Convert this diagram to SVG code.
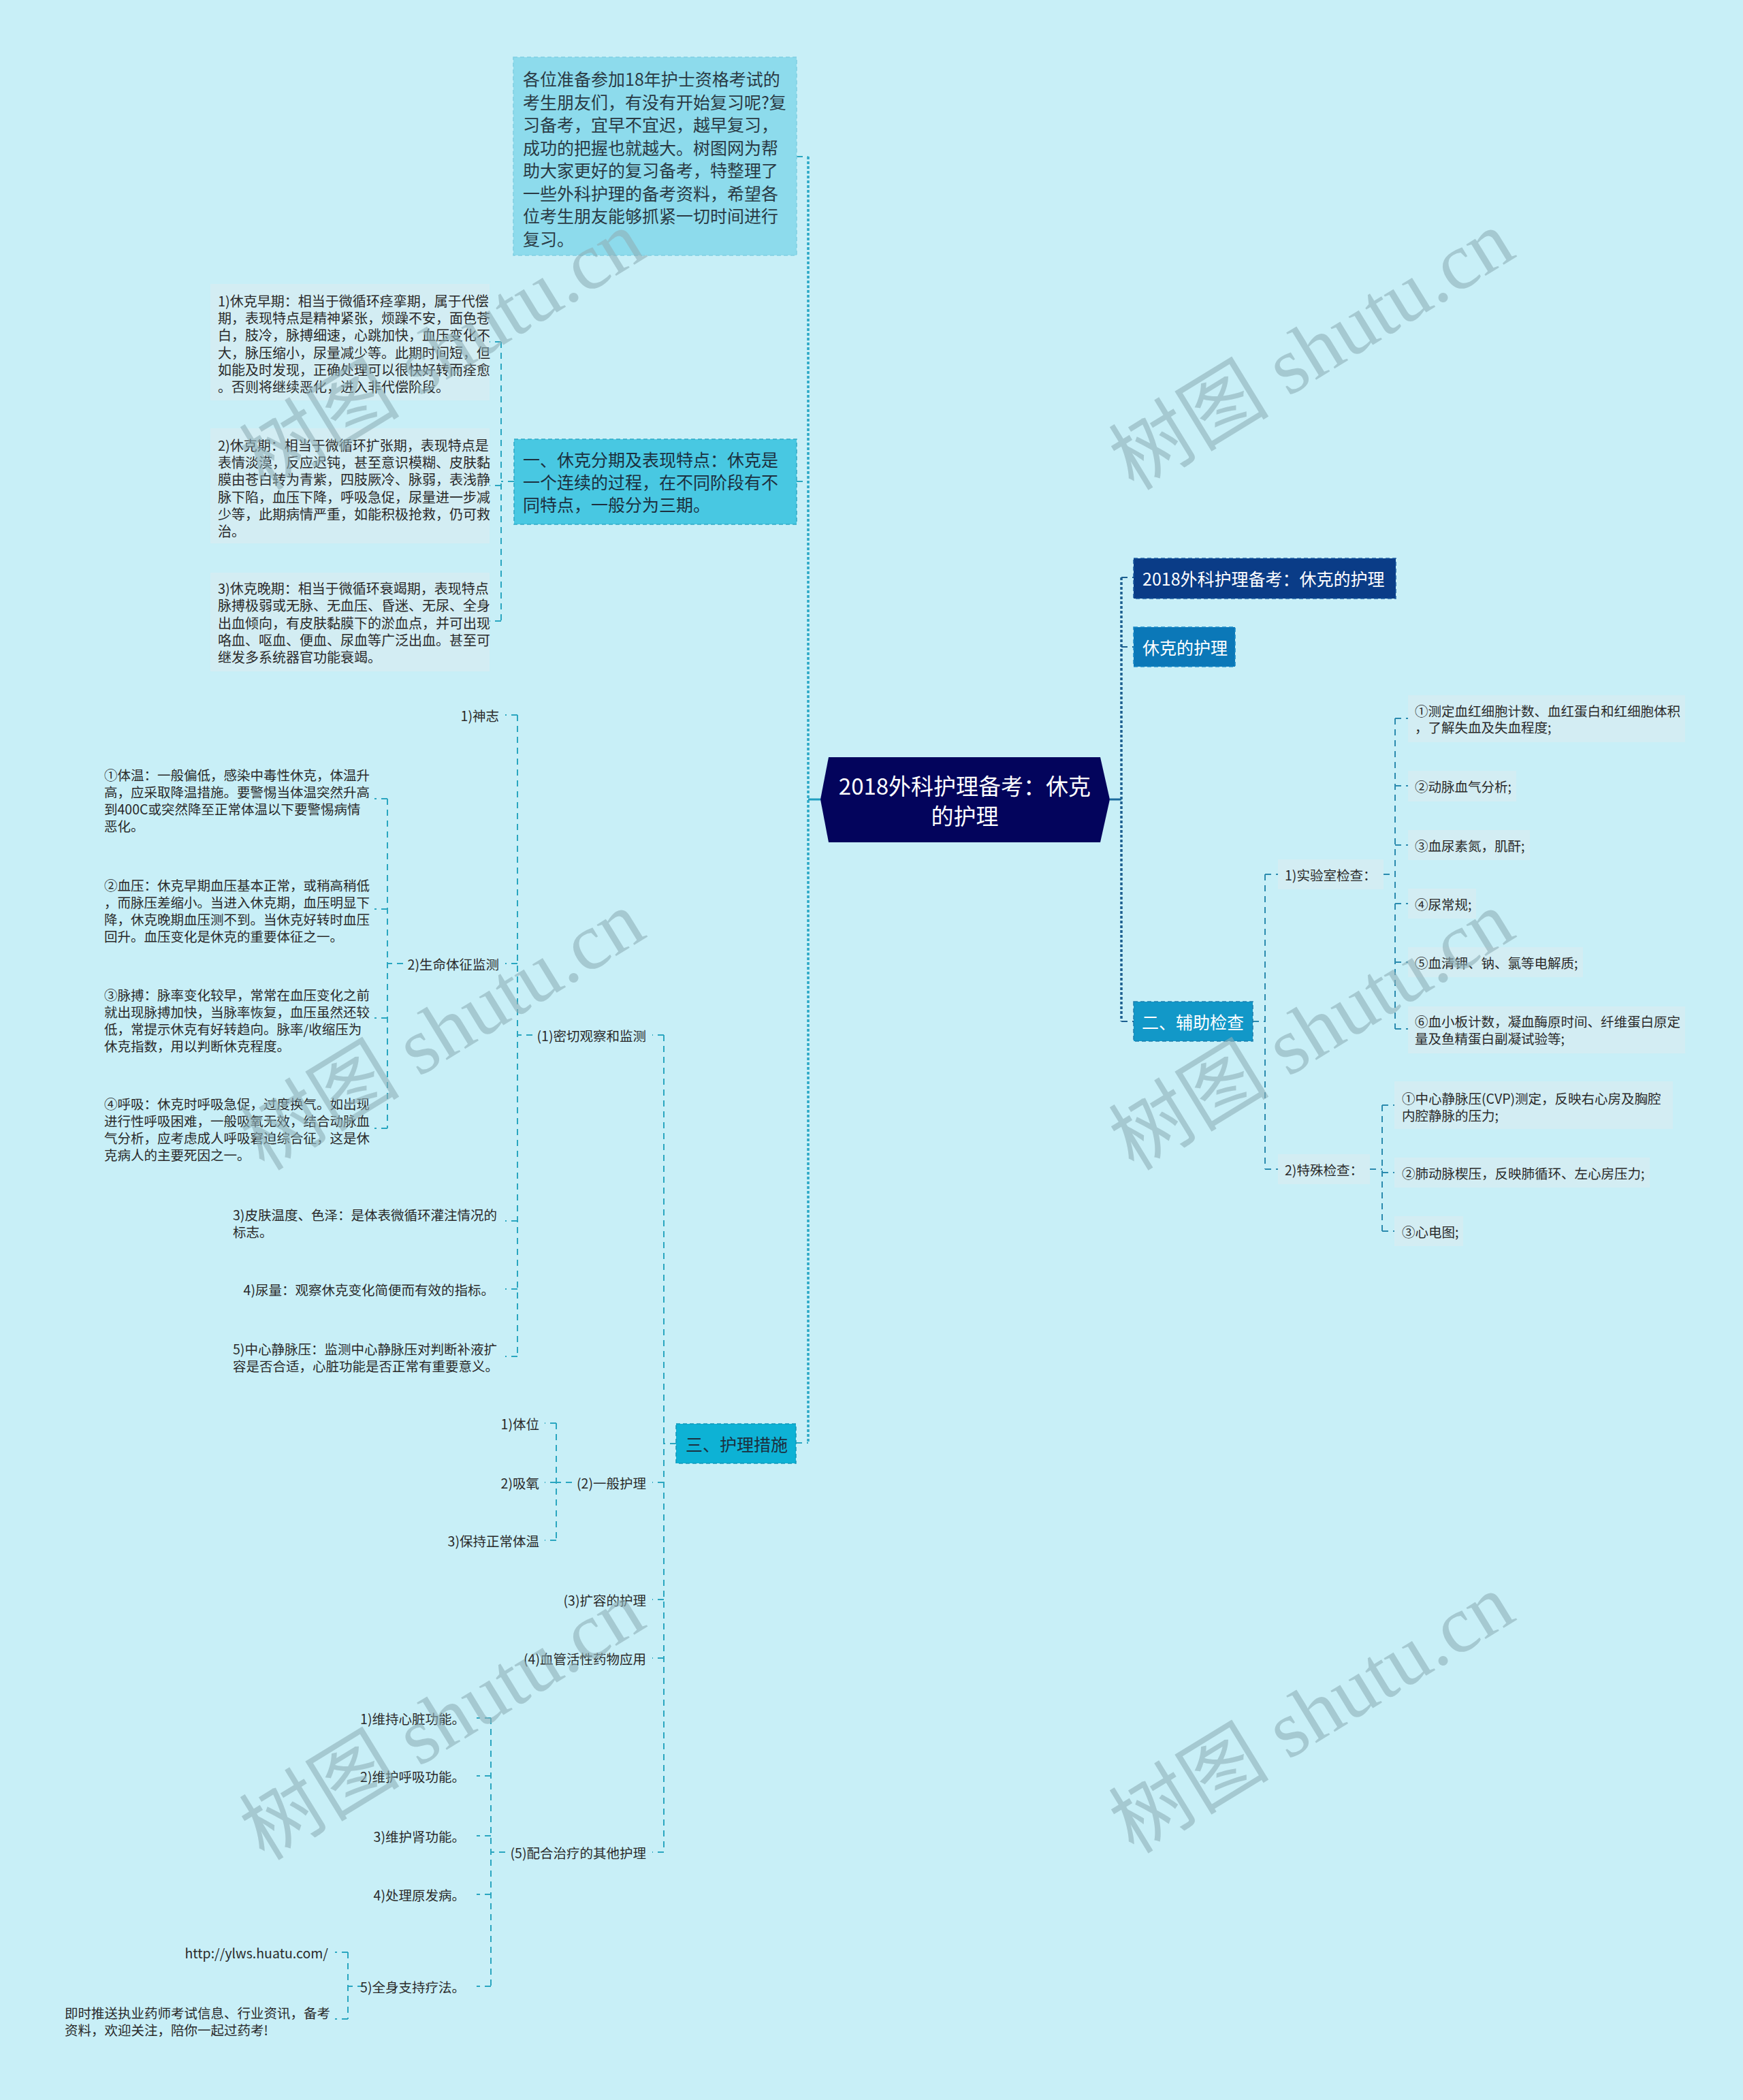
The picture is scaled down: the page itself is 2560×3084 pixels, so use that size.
<svg xmlns="http://www.w3.org/2000/svg" width="2560" height="3084" viewBox="0 0 2560 3084">
<style>
text{font-family:"Noto Sans CJK SC","Noto Sans",sans-serif;dominant-baseline:central}
.s{font-size:19.5px;fill:#2a2a2a}
.p{font-size:20px;fill:#2a2a2a}
.m{font-size:25px;fill:#1c3040}
.w{font-size:25px;fill:#ffffff}
.r{font-size:33px;fill:#ffffff}
.end{text-anchor:end}
.leaf{fill:#d3edf3}
.cl{fill:none;stroke:#2aa6c0;stroke-width:2;stroke-dasharray:9 7}
.cr{fill:none;stroke:#2a8aae;stroke-width:2;stroke-dasharray:9 7}
.tl{fill:none;stroke:#2aa8c6;stroke-width:3.5;stroke-dasharray:4 3}
.tr{fill:none;stroke:#1c5f90;stroke-width:3.5;stroke-dasharray:4 3}
.solid{fill:none;stroke:#1f9fc0;stroke-width:3}
.wm{font-family:"Liberation Serif","Noto Sans CJK SC",serif;font-size:118px;fill:#8fb0b8;opacity:0.6;text-anchor:middle}
</style>
<rect x="0" y="0" width="2560" height="3084" fill="#c8eff7"/>

<g id="connectors">
  <path class="tl" d="M1187,230 V2119"/>
  <path class="cl" d="M1170,230 H1187 M1170,707 H1187 M1169,2119 H1187"/>
  <path class="solid" d="M1205,1174 H1187"/>
  <path class="tr" d="M1647,848 V1500"/>
  <path class="solid" d="M1630,1174 H1647" style="stroke:#1d6a9c"/>
  <path class="cr" d="M1647,848 H1665 M1647,950 H1665 M1647,1500 H1665" style="stroke:#1c5f90"/>
  <path class="cl" d="M755,707 H736 M736,502 V912 M736,502 H719 M736,713 H719 M736,912 H719"/>
  <path class="cr" d="M1840,1500 H1858 M1858,1284 V1717 M1858,1284 H1877 M1858,1717 H1877"/>
  <path class="cr" d="M2032,1284 H2049 M2049,1055 V1511 M2049,1055 H2068 M2049,1154 H2068 M2049,1241 H2068 M2049,1327 H2068 M2049,1413 H2068 M2049,1511 H2068"/>
  <path class="cr" d="M2012,1717 H2030 M2030,1623 V1808 M2030,1623 H2048 M2030,1722 H2048 M2030,1808 H2048"/>
  <path class="cl" d="M993,2120 H975 M975,1520 V2720 M975,1520 H958 M975,2177 H958 M975,2349 H958 M975,2435 H958 M975,2720 H958"/>
  <path class="cl" d="M782,1520 H760 M760,1050 V1992 M760,1050 H742 M760,1415 H742 M760,1793 H742 M760,1893 H742 M760,1992 H742"/>
  <path class="cl" d="M592,1415 H569 M569,1173 V1657 M569,1173 H550 M569,1335 H550 M569,1495 H550 M569,1657 H550"/>
  <path class="cl" d="M840,2177 H817 M817,2090 V2262 M817,2090 H800 M817,2177 H800 M817,2262 H800"/>
  <path class="cl" d="M742,2720 H721 M721,2523 V2917 M721,2523 H700 M721,2608 H700 M721,2696 H700 M721,2782 H700 M721,2917 H700"/>
  <path class="cl" d="M534,2917 H511 M511,2867 V2965 M511,2867 H492 M511,2965 H492"/>
</g>

<g id="root">
  <polygon points="1217,1112 1616,1112 1630,1174 1616,1237 1217,1237 1205,1174" fill="#03045c"/>
  <text class="r" x="1417" y="1153" text-anchor="middle">2018外科护理备考：休克</text>
  <text class="r" x="1417" y="1197" text-anchor="middle">的护理</text>
</g>

<g id="intro">
  <rect x="754" y="84" width="416" height="291" fill="#8ddbec" stroke="#7fcfe2" stroke-width="1.5" stroke-dasharray="6 4"/>
  <text class="m" x="768" y="115" style="fill:#2a3a44">各位准备参加18年护士资格考试的</text>
  <text class="m" x="768" y="148.5" style="fill:#2a3a44">考生朋友们，有没有开始复习呢?复</text>
  <text class="m" x="768" y="182" style="fill:#2a3a44">习备考，宜早不宜迟，越早复习，</text>
  <text class="m" x="768" y="215.5" style="fill:#2a3a44">成功的把握也就越大。树图网为帮</text>
  <text class="m" x="768" y="249" style="fill:#2a3a44">助大家更好的复习备考，特整理了</text>
  <text class="m" x="768" y="282.5" style="fill:#2a3a44">一些外科护理的备考资料，希望各</text>
  <text class="m" x="768" y="316" style="fill:#2a3a44">位考生朋友能够抓紧一切时间进行</text>
  <text class="m" x="768" y="349.5" style="fill:#2a3a44">复习。</text>
</g>

<g id="n1">
  <rect x="755" y="645" width="415" height="125" fill="#48c8e2" stroke="#2ea9c6" stroke-width="1.5" stroke-dasharray="6 4"/>
  <text class="m" x="768" y="674">一、休克分期及表现特点：休克是</text>
  <text class="m" x="768" y="707">一个连续的过程，在不同阶段有不</text>
  <text class="m" x="768" y="740">同特点，一般分为三期。</text>
</g>

<g id="n1-1">
  <rect class="leaf" x="309" y="417" width="410" height="171"/>
  <text class="p" x="320" y="441">1)休克早期：相当于微循环痉挛期，属于代偿</text>
  <text class="p" x="320" y="466">期，表现特点是精神紧张，烦躁不安，面色苍</text>
  <text class="p" x="320" y="491.5">白，肢冷，脉搏细速，心跳加快，血压变化不</text>
  <text class="p" x="320" y="517">大，脉压缩小，尿量减少等。此期时间短，但</text>
  <text class="p" x="320" y="542">如能及时发现，正确处理可以很快好转而痊愈</text>
  <text class="p" x="320" y="567">。否则将继续恶化，进入非代偿阶段。</text>
</g>
<g id="n1-2">
  <rect class="leaf" x="309" y="629" width="410" height="169"/>
  <text class="p" x="320" y="653">2)休克期：相当于微循环扩张期，表现特点是</text>
  <text class="p" x="320" y="678">表情淡漠，反应迟钝，甚至意识模糊、皮肤黏</text>
  <text class="p" x="320" y="703.5">膜由苍白转为青紫，四肢厥冷、脉弱，表浅静</text>
  <text class="p" x="320" y="729">脉下陷，血压下降，呼吸急促，尿量进一步减</text>
  <text class="p" x="320" y="754">少等，此期病情严重，如能积极抢救，仍可救</text>
  <text class="p" x="320" y="779">治。</text>
</g>
<g id="n1-3">
  <rect class="leaf" x="309" y="841" width="410" height="145"/>
  <text class="p" x="320" y="863.5">3)休克晚期：相当于微循环衰竭期，表现特点</text>
  <text class="p" x="320" y="888.5">脉搏极弱或无脉、无血压、昏迷、无尿、全身</text>
  <text class="p" x="320" y="914">出血倾向，有皮肤黏膜下的淤血点，并可出现</text>
  <text class="p" x="320" y="939">咯血、呕血、便血、尿血等广泛出血。甚至可</text>
  <text class="p" x="320" y="964">继发多系统器官功能衰竭。</text>
</g>

<g id="title2">
  <rect x="1665" y="820" width="385" height="59" fill="#0a3c87" stroke="#1a5aa0" stroke-width="1.5" stroke-dasharray="6 4"/>
  <text class="w" x="1678" y="849">2018外科护理备考：休克的护理</text>
</g>
<g id="title3">
  <rect x="1665" y="921" width="149" height="58" fill="#0b78b8" stroke="#1a8ac8" stroke-width="1.5" stroke-dasharray="6 4"/>
  <text class="w" x="1678" y="950">休克的护理</text>
</g>

<g id="n2">
  <rect x="1665" y="1471" width="175" height="58" fill="#1298c8" stroke="#1a7fae" stroke-width="1.5" stroke-dasharray="6 4"/>
  <text class="w" x="1677" y="1500">二、辅助检查</text>
</g>
<g id="n2-1">
  <rect class="leaf" x="1877" y="1262" width="155" height="44"/>
  <text class="s" x="1887" y="1284">1)实验室检查：</text>
</g>
<g id="n2-1-1">
  <rect class="leaf" x="2068" y="1021" width="407" height="69"/>
  <text class="s" x="2078" y="1043">①测定血红细胞计数、血红蛋白和红细胞体积</text>
  <text class="s" x="2078" y="1067">，了解失血及失血程度;</text>
</g>
<g id="n2-1-2">
  <rect class="leaf" x="2068" y="1132" width="159" height="45"/>
  <text class="s" x="2078" y="1154">②动脉血气分析;</text>
</g>
<g id="n2-1-3">
  <rect class="leaf" x="2068" y="1219" width="179" height="44"/>
  <text class="s" x="2078" y="1241">③血尿素氮，肌酐;</text>
</g>
<g id="n2-1-4">
  <rect class="leaf" x="2068" y="1305" width="100" height="44"/>
  <text class="s" x="2078" y="1327">④尿常规;</text>
</g>
<g id="n2-1-5">
  <rect class="leaf" x="2068" y="1391" width="257" height="44"/>
  <text class="s" x="2078" y="1413">⑤血清钾、钠、氯等电解质;</text>
</g>
<g id="n2-1-6">
  <rect class="leaf" x="2068" y="1478" width="407" height="69"/>
  <text class="s" x="2078" y="1499">⑥血小板计数，凝血酶原时间、纤维蛋白原定</text>
  <text class="s" x="2078" y="1524">量及鱼精蛋白副凝试验等;</text>
</g>
<g id="n2-2">
  <rect class="leaf" x="1877" y="1695" width="135" height="44"/>
  <text class="s" x="1887" y="1717">2)特殊检查：</text>
</g>
<g id="n2-2-1">
  <rect class="leaf" x="2048" y="1588" width="409" height="70"/>
  <text class="s" x="2059" y="1612">①中心静脉压(CVP)测定，反映右心房及胸腔</text>
  <text class="s" x="2059" y="1637">内腔静脉的压力;</text>
</g>
<g id="n2-2-2">
  <rect class="leaf" x="2048" y="1700" width="375" height="44"/>
  <text class="s" x="2059" y="1722">②肺动脉楔压，反映肺循环、左心房压力;</text>
</g>
<g id="n2-2-3">
  <rect class="leaf" x="2048" y="1786" width="101" height="44"/>
  <text class="s" x="2059" y="1808">③心电图;</text>
</g>

<g id="n3">
  <rect x="993" y="2091" width="176" height="58" fill="#0db2d5" stroke="#1198bb" stroke-width="1.5" stroke-dasharray="6 4"/>
  <text class="m" x="1007" y="2120">三、护理措施</text>
</g>
<g id="n3-1"><text class="s end" x="949" y="1520">(1)密切观察和监测</text></g>
<g id="n3-1-1"><text class="s end" x="733" y="1050">1)神志</text></g>
<g id="n3-1-2"><text class="s end" x="733" y="1415">2)生命体征监测</text></g>
<g id="n3-1-2-1">
  <text class="s" x="153" y="1137">①体温：一般偏低，感染中毒性休克，体温升</text>
  <text class="s" x="153" y="1162">高，应采取降温措施。要警惕当体温突然升高</text>
  <text class="s" x="153" y="1187">到400C或突然降至正常体温以下要警惕病情</text>
  <text class="s" x="153" y="1212">恶化。</text>
</g>
<g id="n3-1-2-2">
  <text class="s" x="153" y="1299">②血压：休克早期血压基本正常，或稍高稍低</text>
  <text class="s" x="153" y="1324">，而脉压差缩小。当进入休克期，血压明显下</text>
  <text class="s" x="153" y="1349">降，休克晚期血压测不到。当休克好转时血压</text>
  <text class="s" x="153" y="1374">回升。血压变化是休克的重要体征之一。</text>
</g>
<g id="n3-1-2-3">
  <text class="s" x="153" y="1460">③脉搏：脉率变化较早，常常在血压变化之前</text>
  <text class="s" x="153" y="1485">就出现脉搏加快，当脉率恢复，血压虽然还较</text>
  <text class="s" x="153" y="1510">低，常提示休克有好转趋向。脉率/收缩压为</text>
  <text class="s" x="153" y="1535">休克指数，用以判断休克程度。</text>
</g>
<g id="n3-1-2-4">
  <text class="s" x="153" y="1620">④呼吸：休克时呼吸急促，过度换气。如出现</text>
  <text class="s" x="153" y="1645">进行性呼吸困难，一般吸氧无效，结合动脉血</text>
  <text class="s" x="153" y="1670">气分析，应考虑成人呼吸窘迫综合征，这是休</text>
  <text class="s" x="153" y="1695">克病人的主要死因之一。</text>
</g>
<g id="n3-1-3">
  <text class="s" x="342" y="1783">3)皮肤温度、色泽：是体表微循环灌注情况的</text>
  <text class="s" x="342" y="1808">标志。</text>
</g>
<g id="n3-1-4"><text class="s end" x="726" y="1893">4)尿量：观察休克变化简便而有效的指标。</text></g>
<g id="n3-1-5">
  <text class="s" x="342" y="1980">5)中心静脉压：监测中心静脉压对判断补液扩</text>
  <text class="s" x="342" y="2005">容是否合适，心脏功能是否正常有重要意义。</text>
</g>
<g id="n3-2"><text class="s end" x="949" y="2177">(2)一般护理</text></g>
<g id="n3-2-1"><text class="s end" x="792" y="2090">1)体位</text></g>
<g id="n3-2-2"><text class="s end" x="792" y="2177">2)吸氧</text></g>
<g id="n3-2-3"><text class="s end" x="792" y="2262">3)保持正常体温</text></g>
<g id="n3-3"><text class="s end" x="949" y="2349">(3)扩容的护理</text></g>
<g id="n3-4"><text class="s end" x="949" y="2435">(4)血管活性药物应用</text></g>
<g id="n3-5"><text class="s end" x="949" y="2720">(5)配合治疗的其他护理</text></g>
<g id="n3-5-1"><text class="s end" x="683" y="2523">1)维持心脏功能。</text></g>
<g id="n3-5-2"><text class="s end" x="683" y="2608">2)维护呼吸功能。</text></g>
<g id="n3-5-3"><text class="s end" x="683" y="2696">3)维护肾功能。</text></g>
<g id="n3-5-4"><text class="s end" x="683" y="2782">4)处理原发病。</text></g>
<g id="n3-5-5"><text class="s end" x="683" y="2917">5)全身支持疗法。</text></g>
<g id="n3-5-5-1"><text class="s end" x="482" y="2867">http://ylws.huatu.com/</text></g>
<g id="n3-5-5-2">
  <text class="s" x="95" y="2955">即时推送执业药师考试信息、行业资讯，备考</text>
  <text class="s" x="95" y="2980">资料，欢迎关注，陪你一起过药考!</text>
</g>

<g id="watermarks">
  <text class="wm" transform="translate(650,515) rotate(-31.5)">树图 shutu.cn</text>
  <text class="wm" transform="translate(1927,515) rotate(-31.5)">树图 shutu.cn</text>
  <text class="wm" transform="translate(650,1514) rotate(-31.5)">树图 shutu.cn</text>
  <text class="wm" transform="translate(1927,1514) rotate(-31.5)">树图 shutu.cn</text>
  <text class="wm" transform="translate(650,2527) rotate(-31.5)">树图 shutu.cn</text>
  <text class="wm" transform="translate(1927,2517) rotate(-31.5)">树图 shutu.cn</text>
</g>
</svg>
